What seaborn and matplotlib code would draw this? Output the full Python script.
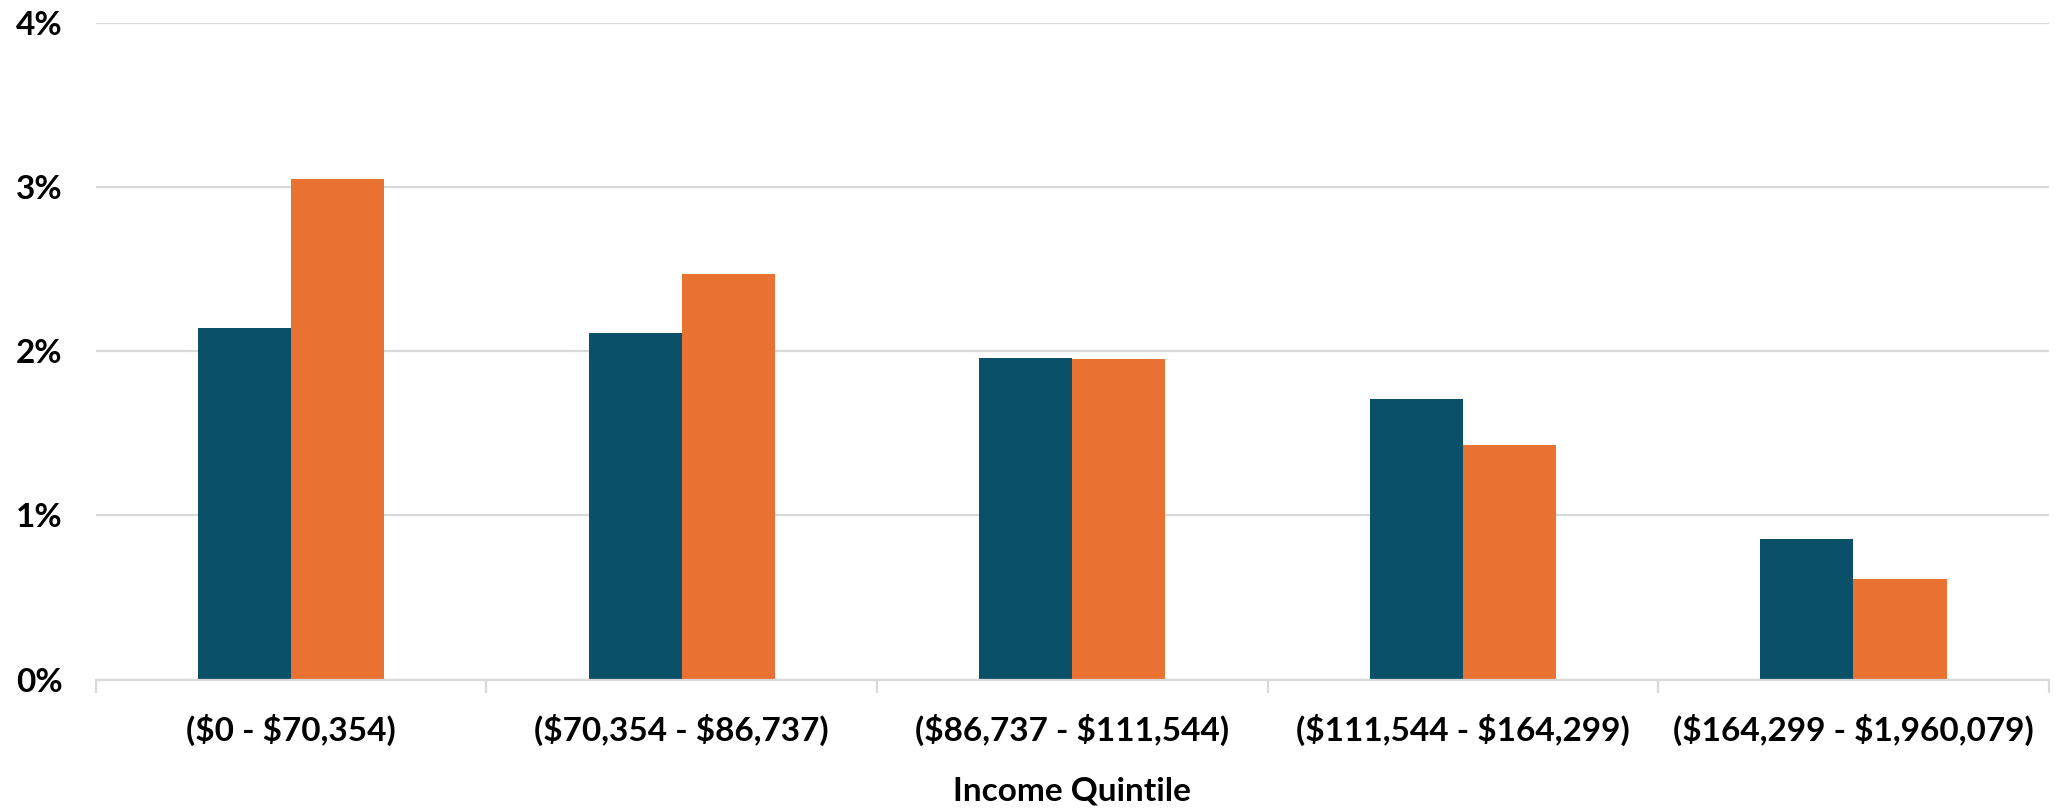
import pandas as pd
import numpy as np
import matplotlib
matplotlib.use("Agg")
import matplotlib.pyplot as plt
import seaborn as sns
from matplotlib.ticker import FuncFormatter, FixedLocator

# values (percent)
quintiles = ["($0 - $70,354)", "($70,354 - $86,737)", "($86,737 - $111,544)",
             "($111,544 - $164,299)", "($164,299 - $1,960,079)"]
series_names = ["Series 1", "Series 2"]
series_1 = [2.14, 2.11, 1.96, 1.71, 0.855]
series_2 = [3.05, 2.47, 1.95, 1.43, 0.615]
y_ticks = [0, 1, 2, 3, 4]

df = pd.DataFrame({
    "Quintile": quintiles * 2,
    "Serie": [series_names[0]] * 5 + [series_names[1]] * 5,
    "Wert": series_1 + series_2,
})

sns.set_theme(style="white")
plt.rcParams['font.family'] = ['Lato', 'DejaVu Sans']
plt.rcParams['text.parse_math'] = False
plt.rcParams['text.color'] = 'black'
plt.rcParams['xtick.color'] = 'black'
plt.rcParams['ytick.color'] = 'black'
plt.rcParams['axes.labelcolor'] = 'black'

fig = plt.figure(figsize=(20.57, 8.08), dpi=100)
ax = fig.add_axes([0.0466, 0.159, 0.9494, 0.813])

ax.yaxis.grid(True, color="#d9d9d9", linewidth=1.6, zorder=0)
ax.set_axisbelow(True)

sns.barplot(data=df, x="Quintile", y="Wert", hue="Serie",
            palette=["#0b5069", "#e97233"], saturation=1, width=0.477, gap=0,
            edgecolor="none", linewidth=0, legend=False, ax=ax)

ax.set_ylim(0, 4)
ax.set_xlim(-0.5, 4.5)
ax.set_yticks(y_ticks)
ax.yaxis.set_major_formatter(FuncFormatter(lambda v, p: f"{v:.0f}%"))
ax.tick_params(axis="y", length=0, pad=24, labelsize=24)
for lab in ax.get_yticklabels():
    lab.set_fontweight("bold")

ax.tick_params(axis="x", which="major", length=0, pad=25, labelsize=24)
for lab in ax.get_xticklabels():
    lab.set_fontweight("bold")
ax.xaxis.set_minor_locator(FixedLocator(np.arange(-0.5, 5.0, 1.0)))
ax.tick_params(axis="x", which="minor", length=9, width=1.6, color="#d9d9d9", bottom=True)

for s in ["top", "right", "left"]:
    ax.spines[s].set_visible(False)
ax.spines["bottom"].set_color("#d9d9d9")
ax.spines["bottom"].set_linewidth(1.6)

ax.set_ylabel("")
ax.set_xlabel("Income Quintile", fontsize=24, fontweight="bold", labelpad=22)

fig.savefig("out.png", dpi=100)
